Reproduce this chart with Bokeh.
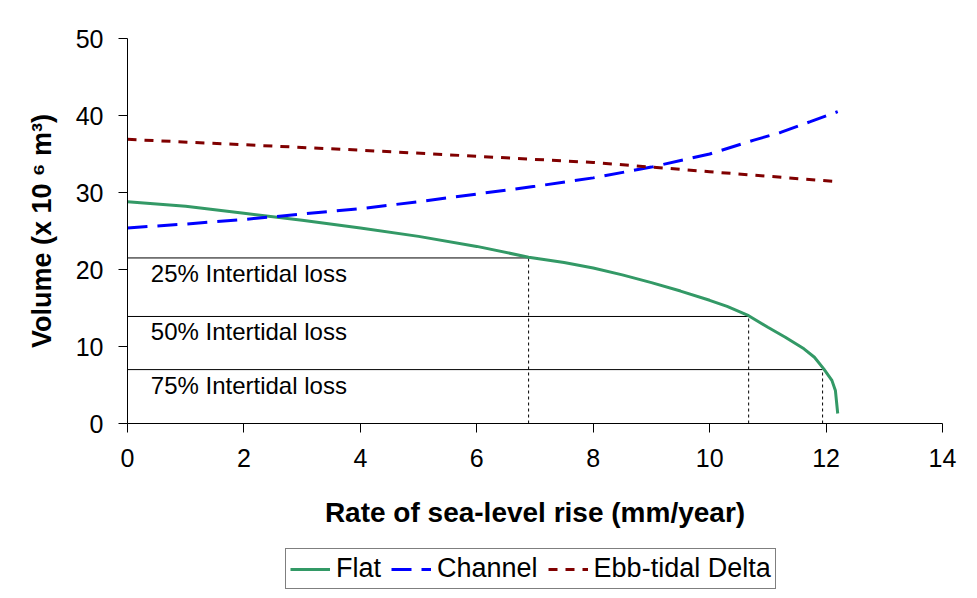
from bokeh.plotting import figure
from bokeh.layouts import column
from bokeh.models import Range1d, FixedTicker, Legend, LegendItem, ColumnDataSource
from bokeh.core.properties import value
from bokeh.embed import file_html
from bokeh.resources import INLINE

# ---- data ----
flat_x = [0, 1, 2, 3, 4, 5, 6, 6.89, 7.5, 8, 8.5, 9, 9.5, 10, 10.3, 10.67, 11.0, 11.3, 11.62, 11.8, 11.96, 12.1, 12.16, 12.2]
flat_y = [28.8, 28.2, 27.3, 26.4, 25.4, 24.3, 23.0, 21.6, 20.9, 20.2, 19.3, 18.3, 17.2, 16.0, 15.2, 14.0, 12.5, 11.2, 9.7, 8.6, 7.1, 5.6, 4.3, 1.3]

channel_x = [0, 1, 2, 3, 4, 5, 6, 7, 8, 9, 10, 10.76, 11.22, 11.73, 12.2]
channel_y = [25.4, 25.9, 26.5, 27.2, 27.9, 28.8, 29.8, 30.8, 31.9, 33.3, 35.0, 36.8, 37.8, 39.2, 40.5]

ebb_x = [0, 2, 4, 6, 8, 10, 12.2]
ebb_y = [36.9, 36.2, 35.5, 34.7, 33.9, 32.7, 31.4]

series_names = ["Flat", "Channel", "Ebb-tidal Delta"]

loss_labels = ["25% Intertidal loss", "50% Intertidal loss", "75% Intertidal loss"]
loss_levels = [21.5, 13.9, 7.0]
loss_rates = [6.89, 10.67, 11.94]

x_ticks = [0, 2, 4, 6, 8, 10, 12, 14]
y_ticks = [0, 10, 20, 30, 40, 50]

FONT = "Liberation Sans"
COLORS = ["#339966", "#0000FF", "#800000"]
DASHES = ["solid", "20 10", "9 8"]
SERIES = [(flat_x, flat_y), (channel_x, channel_y), (ebb_x, ebb_y)]

p = figure(width=977, height=540, output_backend="svg", toolbar_location=None,
           x_range=Range1d(0, 14), y_range=Range1d(0, 50),
           min_border_left=127, min_border_right=35, min_border_top=38, min_border_bottom=117)
p.outline_line_color = None
p.xgrid.visible = False
p.ygrid.visible = False
p.background_fill_color = "white"
p.border_fill_color = "white"

for ax in (p.xaxis[0], p.yaxis[0]):
    ax.axis_line_color = "black"
    ax.axis_line_width = 1
    ax.major_tick_line_color = "black"
    ax.major_tick_in = 0
    ax.major_tick_out = 9
    ax.minor_tick_line_color = None
    ax.major_label_text_font = FONT
    ax.major_label_text_font_size = "25px"
    ax.major_label_text_color = "black"
    ax.axis_label_text_font = FONT
    ax.axis_label_text_font_style = "bold"
    ax.axis_label_text_color = "black"

p.xaxis[0].axis_label_text_font_size = "28px"
p.yaxis[0].axis_label_text_font_size = "27px"
p.xaxis[0].ticker = FixedTicker(ticks=x_ticks)
p.yaxis[0].ticker = FixedTicker(ticks=y_ticks)
p.xaxis[0].major_label_standoff = 16
p.yaxis[0].major_label_standoff = 15
p.xaxis[0].axis_label = "Rate of sea-level rise (mm/year)"
p.yaxis[0].axis_label = "Volume (x 10 \u2076 m\u00b3)"
p.xaxis[0].axis_label_standoff = 27
p.yaxis[0].axis_label_standoff = 16

# reference lines for intertidal loss
for lvl, rate in zip(loss_levels, loss_rates):
    p.line([0, rate], [lvl, lvl], line_color="black", line_width=1)
    p.line([rate, rate], [0, lvl], line_color="black", line_width=1, line_dash="3 3")

lab_src = ColumnDataSource(dict(x=[0.4] * len(loss_labels),
                                y=[l - 2.0 for l in loss_levels],
                                t=loss_labels))
p.text(x="x", y="y", text="t", source=lab_src, text_font=value(FONT),
       text_font_size="24px", text_color="black", text_baseline="alphabetic", text_align="left")

for (xs, ys), c, d in zip(SERIES, COLORS, DASHES):
    p.line(xs, ys, line_color=c, line_width=3, line_dash=d)

# legend strip underneath (its renderers sit outside the visible range)
lg = figure(width=977, height=58, output_backend="svg", toolbar_location=None,
            x_range=Range1d(100, 101), y_range=Range1d(100, 101),
            x_axis_location=None, y_axis_location=None,
            min_border_left=0, min_border_right=0, min_border_top=0, min_border_bottom=0)
lg.outline_line_color = None
lg.xgrid.visible = False
lg.ygrid.visible = False
items = []
for name, (xs, ys), c, d in zip(series_names, SERIES, COLORS, DASHES):
    r = lg.line(xs, ys, line_color=c, line_width=3, line_dash=d)
    items.append(LegendItem(label=name, renderers=[r]))

legend = Legend(items=items, location=(158, 9), orientation="horizontal")
legend.border_line_color = "black"
legend.border_line_width = 1
legend.background_fill_color = "white"
legend.background_fill_alpha = 1
legend.label_text_font = FONT
legend.label_text_font_size = "27px"
legend.label_text_color = "black"
legend.glyph_width = 40
legend.glyph_height = 24
legend.label_height = 24
legend.label_standoff = 6
legend.spacing = 10
legend.padding = 4
legend.margin = 0
lg.add_layout(legend, "center")

open("out.html", "w").write(file_html(column(p, lg, spacing=0), INLINE))
